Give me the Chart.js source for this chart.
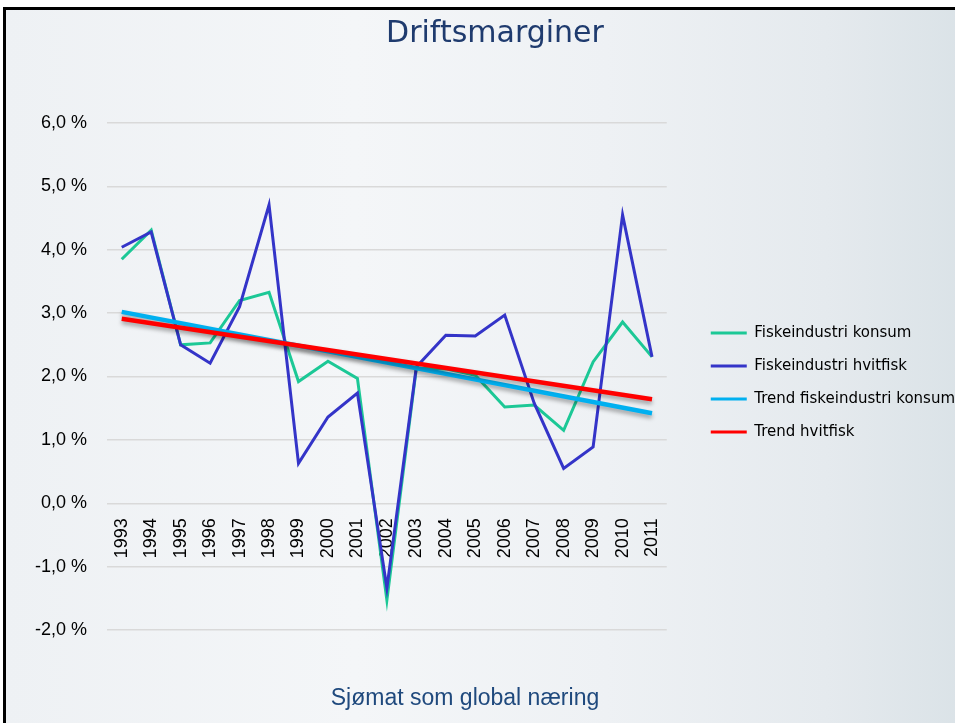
<!DOCTYPE html>
<html>
<head>
<meta charset="utf-8">
<script src="https://cdn.jsdelivr.net/npm/chart.js@4.4.0/dist/chart.umd.min.js"></script>
<style>
  html, body { margin:0; padding:0; width:955px; height:723px; overflow:hidden; background:#ffffff; }
  #frame { position:absolute; left:3px; top:7px; width:1000px; height:800px;
    border-left:3px solid #000; border-top:3px solid #000;
    background: linear-gradient(90deg, #eef1f4 0%, #f4f6f8 35%, #eef1f4 60%, #e5eaee 82%, #d7e0e5 100%); }
  #title { position:absolute; left:495px; top:14px; transform:translateX(-50%); white-space:nowrap;
    font-family:"DejaVu Sans", sans-serif; font-size:30px; color:#1f3b6e; line-height:36px; }
  #footer { position:absolute; left:465px; top:684px; transform:translateX(-50%); white-space:nowrap;
    font-family:"Liberation Sans", Arial, sans-serif; font-size:23px; color:#1f497d; line-height:26px; }
  #chart { position:absolute; left:0; top:0; }
</style>
</head>
<body>
<div id="frame"></div>
<canvas id="chart" width="965" height="723"></canvas>
<div id="title">Driftsmarginer</div>
<div id="footer">Sjømat som global næring</div>
<script>
const years = ['1993','1994','1995','1996','1997','1998','1999','2000','2001','2002','2003','2004','2005','2006','2007','2008','2009','2010','2011'];
const konsum   = [3.85, 4.31, 2.50, 2.53, 3.20, 3.33, 1.92, 2.24, 1.97, -1.53, 2.13, 2.12, 2.02, 1.52, 1.55, 1.15, 2.23, 2.86, 2.31];
const hvitfisk = [4.04, 4.28, 2.50, 2.21, 3.10, 4.71, 0.63, 1.36, 1.74, -1.34, 2.15, 2.65, 2.64, 2.97, 1.58, 0.55, 0.89, 4.55, 2.31];
const trendYears = ['1993', '2011'];
const trendKonsum = [3.02, 1.42];
const trendHvitfisk = [2.91, 1.64];
const seriesNames = ['Fiskeindustri konsum', 'Fiskeindustri hvitfisk', 'Trend fiskeindustri konsum', 'Trend hvitfisk'];

const toPts = (xs, ys) => xs.map((x, i) => ({x: x, y: ys[i]}));

const shadowPlugin = {
  id: 'trendShadow',
  beforeDatasetDraw(chart, args) {
    const ds = chart.data.datasets[args.index];
    chart.ctx.save();
    if (ds.shadow) {
      chart.ctx.shadowColor = 'rgba(0,0,0,0.35)';
      chart.ctx.shadowBlur = 4;
      chart.ctx.shadowOffsetY = 3;
    }
  },
  afterDatasetDraw(chart) { chart.ctx.restore(); }
};

new Chart(document.getElementById('chart'), {
  type: 'line',
  data: {
    labels: years,
    datasets: [
      { label: seriesNames[0], data: konsum, borderColor: '#1cc896', backgroundColor: '#1cc896', borderWidth: 3, order: 3 },
      { label: seriesNames[1], data: hvitfisk, borderColor: '#3434c8', backgroundColor: '#3434c8', borderWidth: 3, order: 2 },
      { label: seriesNames[2], data: toPts(trendYears, trendKonsum), borderColor: '#00b0f0', backgroundColor: '#00b0f0', borderWidth: 4.5, order: 1, shadow: true },
      { label: seriesNames[3], data: toPts(trendYears, trendHvitfisk), borderColor: '#ff0000', backgroundColor: '#ff0000', borderWidth: 4.5, order: 0, shadow: true }
    ]
  },
  options: {
    responsive: false,
    animation: false,
    devicePixelRatio: 1,
    elements: { point: { radius: 0, hoverRadius: 0 }, line: { tension: 0, fill: false } },
    layout: { padding: { top: 123, bottom: 93, left: 0, right: 0 } },
    plugins: {
      tooltip: { enabled: false },
      title: { display: false },
      legend: {
        position: 'right',
        maxWidth: 320,
        title: { display: true, text: '', padding: 0, font: { size: 10 } },
        labels: {
          boxWidth: 36, boxHeight: 3, padding: 18,
          color: '#000000',
          font: { family: 'DejaVu Sans', size: 15 },
          sort: (a, b) => a.datasetIndex - b.datasetIndex,
          generateLabels(chart) {
            return chart.data.datasets.map((ds, i) => ({
              text: ds.label, fillStyle: ds.borderColor, strokeStyle: ds.borderColor,
              lineWidth: 0, hidden: false, datasetIndex: i, fontColor: '#000000'
            }));
          }
        }
      }
    },
    scales: {
      x: {
        type: 'category',
        offset: true,
        position: { y: 0 },
        grid: { display: false, drawTicks: false },
        border: { display: false },
        ticks: {
          minRotation: 90, maxRotation: 90, autoSkip: false, padding: 15,
          color: '#000000', font: { family: 'Liberation Sans', size: 18 }
        }
      },
      y: {
        position: 'left',
        min: -2, max: 6,
        afterFit(s) { s.width = 107; },
        grid: { color: '#d9d9d9', lineWidth: 1.5, drawTicks: false },
        border: { display: false },
        ticks: {
          stepSize: 1, padding: 20, color: '#000000',
          font: { family: 'Liberation Sans', size: 18 },
          callback: v => v.toFixed(1).replace('.', ',') + ' %'
        }
      },
      spacer: {
        type: 'linear',
        position: 'right',
        display: true,
        afterFit(s) { s.width = 26; },
        grid: { display: false, drawTicks: false },
        border: { display: false },
        ticks: { display: false }
      }
    }
  },
  plugins: [shadowPlugin]
});
</script>
</body>
</html>
